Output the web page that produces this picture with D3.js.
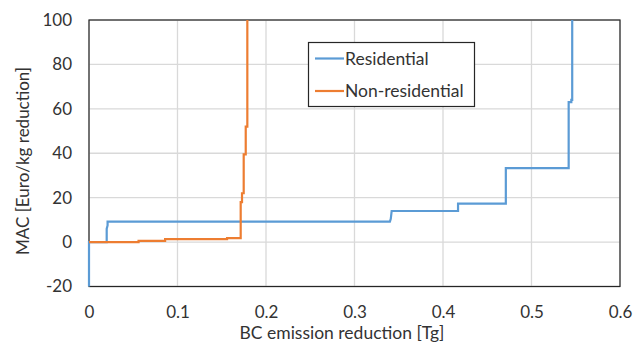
<!DOCTYPE html>
<html><head><meta charset="utf-8">
<script src="https://cdn.jsdelivr.net/npm/d3@7"></script>
<style>body{margin:0;background:#fff}svg{display:block}text{font-family:Lato,"Open Sans",sans-serif;fill:#333}</style>
</head><body>
<svg id="c" width="634" height="342"></svg>
<script>
const xTicks=[0,0.1,0.2,0.3,0.4,0.5,0.6];
const yTicks=[-20,0,20,40,60,80,100];
const seriesNames=["Residential","Non-residential"];
const resX=[0,0,0.020,0.020,0.021,0.021,0.340,0.341,0.342,0.417,0.417,0.471,0.471,0.542,0.542,0.545,0.545,0.546,0.546];
const resY=[-20,0,0,6,7.5,9.2,9.2,10.5,14,14,17.3,17.3,33.3,33.3,63,63,64,64,100];
const nonX=[0,0.056,0.056,0.086,0.086,0.156,0.156,0.1714,0.1714,0.1729,0.1729,0.1748,0.1748,0.1771,0.1771,0.1789,0.1789];
const nonY=[0,0,0.5,0.5,1.3,1.3,1.8,1.8,18,18,22,22,39.5,39.5,52,52,100];
const colors=["#5b9bd5","#ed7d31"];

const svg=d3.select("#c");
const L=89,R=620,T=20,B=286.5;
const x=d3.scaleLinear().domain([0,0.6]).range([L,R]);
const y=d3.scaleLinear().domain([-20,100]).range([B,T]);
const g=svg.append("g");
g.selectAll(".gx").data(xTicks).join("line").attr("x1",d=>x(d)).attr("x2",d=>x(d)).attr("y1",T).attr("y2",B).attr("stroke","#d9d9d9").attr("stroke-width",1.3);
g.selectAll(".gy").data(yTicks).join("line").attr("y1",d=>y(d)).attr("y2",d=>y(d)).attr("x1",L).attr("x2",R).attr("stroke","#d9d9d9").attr("stroke-width",1.3);
svg.append("rect").attr("x",L).attr("y",T).attr("width",R-L).attr("height",B-T).attr("fill","none").attr("stroke","#262626").attr("stroke-width",1.2);

const line=d3.line().x(d=>x(d[0])).y(d=>y(d[1]));
const res=resX.map((v,i)=>[v,resY[i]]);
const non=nonX.map((v,i)=>[v,nonY[i]]);
svg.append("path").datum(res).attr("d",line).attr("fill","none").attr("stroke",colors[0]).attr("stroke-width",2.2);
svg.append("path").datum(non).attr("d",line).attr("fill","none").attr("stroke",colors[1]).attr("stroke-width",2.2);

const xa=svg.append("g").attr("transform",`translate(0,${B})`).call(d3.axisBottom(x).tickValues(xTicks).tickSize(0).tickPadding(19).tickFormat(d=>d===0?"0":d3.format(".1f")(d)));
xa.select(".domain").remove();
xa.selectAll("text").style("font-size","17px").style("font-family","Lato").attr("fill","#333");
const ya=svg.append("g").attr("transform",`translate(${L},0)`).call(d3.axisLeft(y).tickValues(yTicks).tickSize(0).tickPadding(17).tickFormat(d=>String(d)));
ya.select(".domain").remove();
ya.selectAll("text").style("font-size","17px").style("font-family","Lato").attr("fill","#333");

svg.append("text").attr("x",342).attr("y",339).attr("text-anchor","middle").style("font-size","17.5px").text("BC emission reduction [Tg]");
svg.append("text").attr("transform","translate(29,161) rotate(-90)").attr("text-anchor","middle").style("font-size","17px").text("MAC [Euro/kg reduction]");

const lg=svg.append("g");
lg.append("rect").attr("x",308.5).attr("y",42.5).attr("width",166).attr("height",64).attr("fill","#fff").attr("stroke","#262626").attr("stroke-width",1.2);
seriesNames.forEach((n,i)=>{
  const yy=58.5+i*32.5;
  lg.append("line").attr("x1",315).attr("x2",344).attr("y1",yy).attr("y2",yy).attr("stroke",colors[i]).attr("stroke-width",2.2);
  lg.append("text").attr("x",345).attr("y",yy+6).style("font-size","17.5px").text(n);
});
</script>
</body></html>
